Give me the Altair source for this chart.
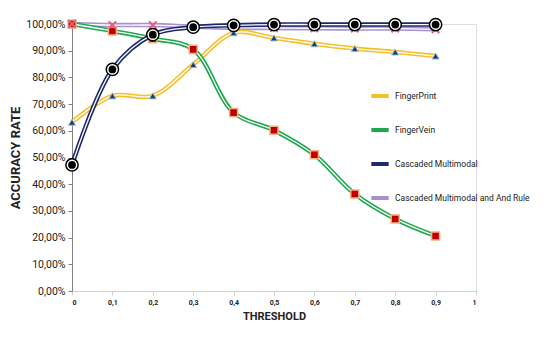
import altair as alt
import pandas as pd

thresholds = [0, 0.1, 0.2, 0.3, 0.4, 0.5, 0.6, 0.7, 0.8, 0.9]
fingerprint = [63.2, 73.1, 73.1, 84.8, 96.7, 94.8, 92.6, 90.8, 89.5, 88.0]
fingervein = [100.0, 97.4, 94.5, 90.5, 66.8, 60.2, 51.0, 36.3, 27.0, 20.6]
cascaded = [47.2, 83.0, 96.0, 98.8, 99.5, 99.8, 99.8, 99.8, 99.8, 99.8]
and_rule = [100.0, 99.6, 99.6, 99.0, 98.6, 98.5, 98.4, 98.3, 98.3, 98.0]

series_names = ["FingerPrint", "FingerVein", "Cascaded Multimodal",
                "Cascaded Multimodal and And Rule"]
line_colors = ["#F5C02A", "#1FA750", "#1B2A6B", "#A990D0"]

FONT = "Roboto"

rows = []
for name, vals in zip(series_names, [fingerprint, fingervein, cascaded, and_rule]):
    for t, v in zip(thresholds, vals):
        rows.append({"series": name, "threshold": t, "rate": v})
df = pd.DataFrame(rows)

x_enc = alt.X("threshold:Q", scale=alt.Scale(domain=[0, 1], nice=False),
              axis=alt.Axis(values=[i / 10 for i in range(11)],
                            labelExpr="replace(format(datum.value, '.1~f'), '.', ',')",
                            labelFontSize=7, labelFontWeight="bold", labelColor="#222",
                            labelFont=FONT,
                            title="THRESHOLD", titleFontSize=11, titleFontWeight="bold",
                            titleColor="#222", titlePadding=5, titleFont=FONT,
                            domainColor="#d0d0d0", tickColor="#d0d0d0", tickSize=4,
                            grid=False, labelPadding=3))
y_enc = alt.Y("rate:Q", scale=alt.Scale(domain=[0, 100], nice=False),
              axis=alt.Axis(values=list(range(0, 101, 10)),
                            labelExpr="replace(format(datum.value, '.2f'), '.', ',') + '%'",
                            labelFontSize=10.5, labelColor="#222", labelFont=FONT,
                            title="ACCURACY RATE", titleFontSize=13, titleFontWeight="bold",
                            titleColor="#222", titlePadding=3, titleFont=FONT,
                            domainColor="#808080", tickColor="#808080", tickSize=4,
                            grid=False, labelPadding=3))

base = alt.Chart(df).encode(x=x_enc, y=y_enc)

layers = []
draw_order = ["Cascaded Multimodal and And Rule", "FingerPrint", "FingerVein", "Cascaded Multimodal"]
for s in draw_order:
    sub = base.transform_filter(alt.datum.series == s)
    outer = sub.mark_line(strokeWidth=4.5, interpolate="catmull-rom").encode(
        color=alt.Color("series:N",
                        scale=alt.Scale(domain=series_names, range=line_colors),
                        sort=series_names,
                        legend=alt.Legend(title=None, orient="none", legendX=297, legendY=61,
                                          symbolType="stroke", symbolStrokeWidth=4,
                                          symbolSize=300, rowPadding=15,
                                          labelFontSize=8.5, labelColor="#222",
                                          labelFont=FONT, labelOffset=4, labelLimit=300)))
    inner = sub.mark_line(strokeWidth=1.3, color="white", interpolate="catmull-rom")
    layers += [outer, inner]

fp_pts = base.transform_filter(alt.datum.series == "FingerPrint").mark_point(
    shape="triangle-up", filled=True, fill="#1F3A6E", stroke="#9DC3E6",
    strokeWidth=1, size=50, opacity=1)
fv_pts = base.transform_filter(alt.datum.series == "FingerVein").mark_point(
    shape="square", filled=True, fill="#C00000", stroke="#F4B183",
    strokeWidth=1.5, size=65, opacity=1)
ar_pts = base.transform_filter(alt.datum.series == "Cascaded Multimodal and And Rule").mark_point(
    shape="M-1,-1L1,1M1,-1L-1,1", filled=False, stroke="#E0607E",
    strokeWidth=2, size=55, opacity=1)
cm_outer = base.transform_filter(alt.datum.series == "Cascaded Multimodal").mark_point(
    shape="circle", filled=True, fill="white", stroke="black",
    strokeWidth=1.5, size=150, opacity=1)
cm_inner = base.transform_filter(alt.datum.series == "Cascaded Multimodal").mark_point(
    shape="circle", filled=True, fill="black", size=60, opacity=1)

layers += [fp_pts, fv_pts, ar_pts, cm_outer, cm_inner]

chart = alt.layer(*layers).properties(
    width=404, height=267,
    autosize=alt.AutoSizeParams(type="none"),
    padding={"left": 64, "top": 16, "right": 59, "bottom": 40},
).configure_view(stroke=None).configure(font=FONT)

chart.save("out.html", embed_options={"renderer": "svg", "actions": False})
